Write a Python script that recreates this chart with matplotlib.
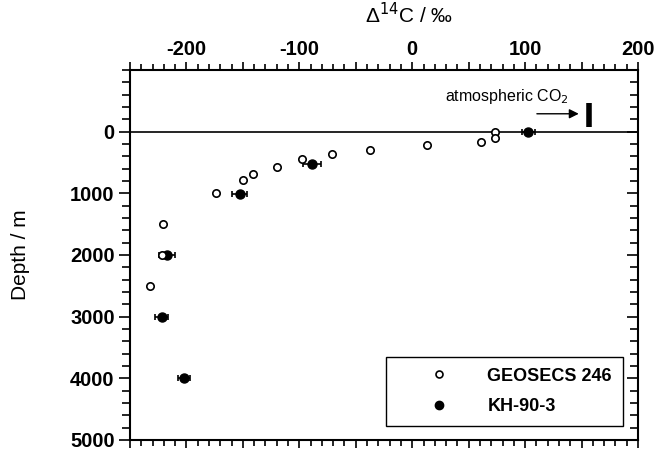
import numpy as np
import matplotlib.pyplot as plt
from matplotlib.ticker import MultipleLocator
from matplotlib.lines import Line2D

plt.rcParams['font.family'] = ['Liberation Sans', 'DejaVu Sans']
plt.rcParams['axes.unicode_minus'] = False

# GEOSECS 246 (open circles)
geo_d14c = [73, 73, 61, 13, -37, -71, -98, -120, -141, -150, -174, -221, -222, -232]
geo_depth = [5, 100, 170, 220, 290, 360, 450, 570, 680, 790, 1000, 1500, 2000, 2500]

# KH-90-3 (filled circles with error bars)
kh_d14c = [103, -89, -153, -217, -222, -202]
kh_depth = [10, 520, 1010, 2005, 3000, 3990]
kh_err = [6, 8, 7, 7, 6, 5.5]

# atmospheric CO2 value
atm_d14c = 157
atm_depth = (-470, -80)

xticks = [-250, -200, -150, -100, -50, 0, 50, 100, 150, 200]
xticklabels = ['', '-200', '', '-100', '', '0', '', '100', '', '200']

fig = plt.figure(figsize=(6.62, 4.53), dpi=100)
ax = fig.add_axes([0.1964, 0.0287, 0.7673, 0.8168])

ax.axhline(0, color='black', lw=1.2, zorder=1)

ax.errorbar(kh_d14c, kh_depth, xerr=kh_err, fmt='o', color='black',
            ms=6.5, capsize=2.5, elinewidth=1.2, capthick=1.2, zorder=3)
ax.plot(geo_d14c, geo_depth, 'o', mfc='white', mec='black', mew=1.2,
        ms=5.3, zorder=4)

ax.vlines(atm_d14c, *atm_depth, color='black', lw=4)
ax.annotate('', xy=(150, -290), xytext=(108, -290),
            arrowprops=dict(arrowstyle='-|>', color='black', lw=1,
                            mutation_scale=14))
ax.text(84, -570, 'atmospheric CO$_2$', ha='center', va='center', fontsize=11.5)

ax.set_xlim(-250, 200)
ax.set_ylim(5000, -1000)

ax.xaxis.tick_top()
ax.xaxis.set_label_position('top')
ax.set_xlabel('Δ$^{14}$C / ‰', fontsize=15)
ax.set_ylabel('Depth / m', fontsize=15)
ax.xaxis.set_label_coords(0.55, 1.149)
ax.xaxis.label.set_va('center')
ax.yaxis.set_label_coords(-0.2165, 0.5)
ax.yaxis.label.set_va('center')

ax.set_xticks(xticks)
ax.set_xticklabels(xticklabels)
ax.xaxis.set_minor_locator(MultipleLocator(10))
ax.set_yticks([0, 1000, 2000, 3000, 4000, 5000])
ax.yaxis.set_minor_locator(MultipleLocator(200))

ax.tick_params(axis='x', which='both', top=True, bottom=True, direction='out',
               labelsize=14.5, width=1.2, pad=2)
ax.tick_params(axis='x', which='major', length=6)
ax.tick_params(axis='x', which='minor', length=4)
ax.tick_params(axis='y', which='both', left=True, right=True, direction='out',
               labelsize=14.5, width=1.2, pad=3)
ax.tick_params(axis='y', which='major', length=8)
ax.tick_params(axis='y', which='minor', length=6)
for lbl in ax.get_xticklabels() + ax.get_yticklabels():
    lbl.set_fontweight('bold')
# right side ticks point inward
for t in ax.yaxis.get_major_ticks() + ax.yaxis.get_minor_ticks():
    t.tick2line.set_marker(0)

for s in ax.spines.values():
    s.set_linewidth(1.5)

h = [Line2D([], [], ls='none', marker='o', mfc='white', mec='black', mew=1.2, ms=5),
     Line2D([], [], ls='none', marker='o', color='black', ms=6)]
leg = ax.legend(h, ['GEOSECS 246', 'KH-90-3'], loc='lower right',
                bbox_to_anchor=(0.97, 0.038), fontsize=13, fancybox=False,
                edgecolor='black', framealpha=1, borderpad=0.6,
                handlelength=4.6, handletextpad=0.4, labelspacing=0.75,
                borderaxespad=0, prop={'size': 13, 'weight': 'bold'})
leg.get_frame().set_linewidth(1)

fig.savefig('out.png', dpi=100)
